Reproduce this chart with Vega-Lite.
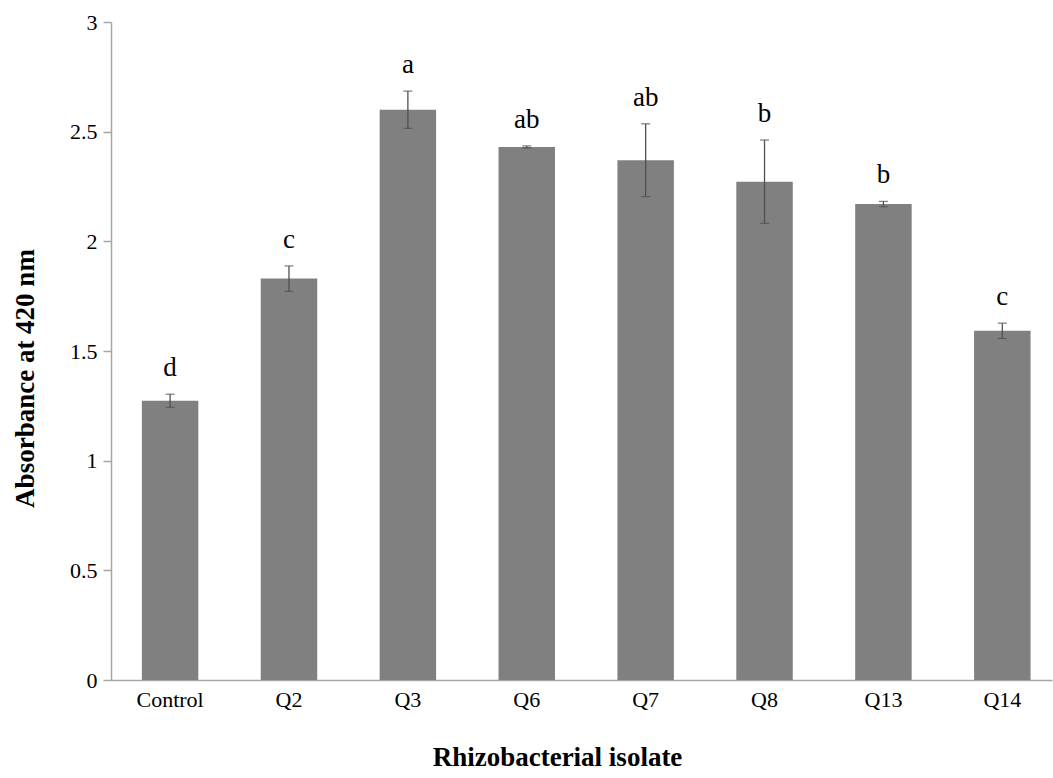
{
  "$schema": "https://vega.github.io/schema/vega-lite/v6.json",
  "width": 941,
  "height": 658,
  "autosize": {"type": "none"},
  "padding": {"left": 111, "top": 22, "right": 1, "bottom": 98},
  "background": "white",
  "config": {
    "view": {"stroke": null},
    "font": "Liberation Serif",
    "axis": {
      "domainColor": "#a6a6a6",
      "tickColor": "#a6a6a6",
      "labelColor": "#000000",
      "titleColor": "#000000",
      "labelFont": "Liberation Serif",
      "titleFont": "Liberation Serif",
      "grid": false
    }
  },
  "data": {
    "values": [
      {"isolate": "Control", "mean": 1.273, "err": 0.03, "group": "d"},
      {"isolate": "Q2", "mean": 1.83, "err": 0.058, "group": "c"},
      {"isolate": "Q3", "mean": 2.60, "err": 0.085, "group": "a"},
      {"isolate": "Q6", "mean": 2.43, "err": 0.005, "group": "ab"},
      {"isolate": "Q7", "mean": 2.37, "err": 0.166, "group": "ab"},
      {"isolate": "Q8", "mean": 2.272, "err": 0.19, "group": "b"},
      {"isolate": "Q13", "mean": 2.17, "err": 0.012, "group": "b"},
      {"isolate": "Q14", "mean": 1.592, "err": 0.035, "group": "c"}
    ]
  },
  "encoding": {
    "x": {
      "field": "isolate",
      "type": "nominal",
      "sort": null,
      "scale": {"paddingInner": 0.525, "paddingOuter": 0.22, "align": 0.59},
      "axis": {
        "title": "Rhizobacterial isolate",
        "titleFontSize": 27,
        "titleFontWeight": "bold",
        "titleX": 446,
        "titleY": 77,
        "titleBaseline": "middle",
        "titleAnchor": null,
        "titleAlign": "center",
        "labelFontSize": 22,
        "labelAngle": 0,
        "labelPadding": 9,
        "ticks": false,
        "domainWidth": 1.5
      }
    }
  },
  "layer": [
    {
      "mark": {"type": "bar", "color": "#808080"},
      "encoding": {
        "y": {
          "field": "mean",
          "type": "quantitative",
          "title": "Absorbance at 420 nm",
          "scale": {"domain": [0, 3], "nice": false},
          "axis": {
            "titleFontSize": 27,
            "titleFontWeight": "bold",
            "titleAngle": -90,
            "titleX": -86,
            "titleY": 356,
            "titleAlign": "center",
            "titleBaseline": "middle",
            "titleAnchor": null,
            "values": [0, 0.5, 1, 1.5, 2, 2.5, 3],
            "format": "~g",
            "labelFontSize": 22,
            "labelPadding": 6,
            "tickSize": 8,
            "domainWidth": 1.5,
            "tickWidth": 1.5
          }
        }
      }
    },
    {
      "mark": {
        "type": "errorbar",
        "color": "#505050",
        "thickness": 1.3,
        "ticks": {"size": 9, "thickness": 1.3, "color": "#505050"}
      },
      "encoding": {
        "y": {"field": "mean", "type": "quantitative", "title": "Absorbance at 420 nm"},
        "yError": {"field": "err"}
      }
    },
    {
      "transform": [{"calculate": "datum.mean + datum.err", "as": "top"}],
      "mark": {
        "type": "text",
        "baseline": "bottom",
        "dy": -12,
        "fontSize": 27,
        "font": "Liberation Serif",
        "color": "#000000"
      },
      "encoding": {
        "y": {"field": "top", "type": "quantitative", "title": "Absorbance at 420 nm"},
        "text": {"field": "group"}
      }
    }
  ]
}
